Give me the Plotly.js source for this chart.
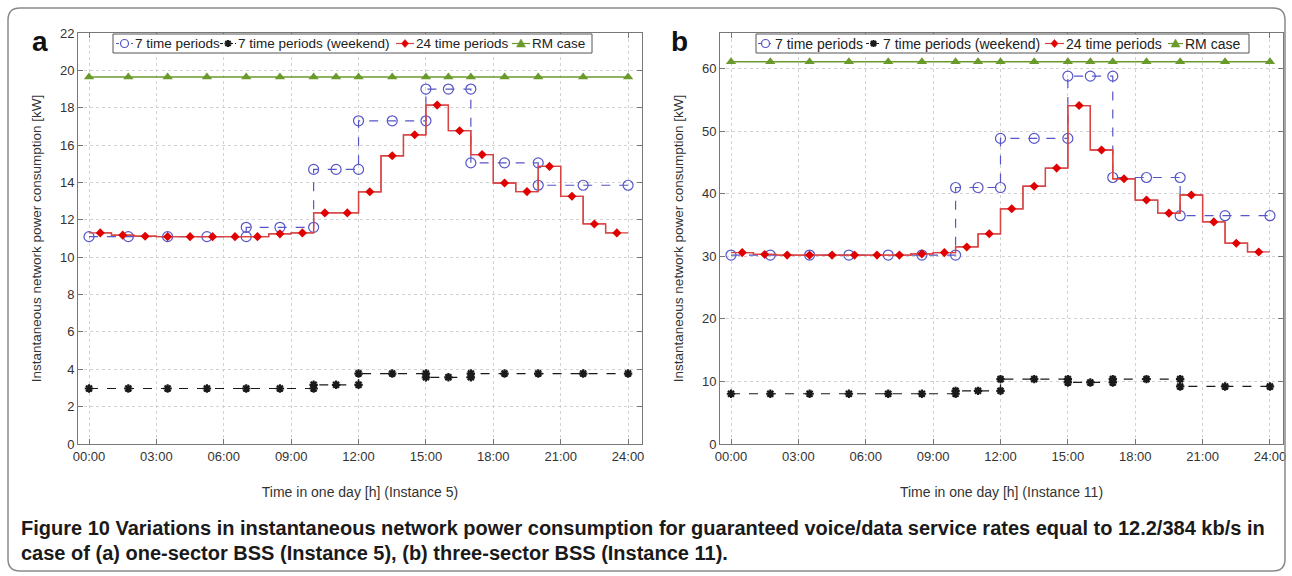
<!DOCTYPE html>
<html>
<head>
<meta charset="utf-8">
<script src="https://cdn.plot.ly/plotly-3.0.1.min.js"></script>
<style>
  html, body { margin: 0; padding: 0; background: #fff; }
  #chart { width: 1292px; height: 576px; }
</style>
</head>
<body>
<div id="chart"></div>
<script>
// ---------------- DATA ----------------
// Hours where markers of the period-based series are drawn
const markerHours = [0, 1.75, 3.5, 5.25, 7, 8.5, 10, 11, 12, 13.5, 15, 16, 17, 18.5, 20, 22, 24];
// Period boundaries for the "7 time periods" tariffs
const periodBounds = [0, 7, 10, 12, 15, 17, 20, 24];

// Panel a (Instance 5)
const sevenPeriodsA = [11.1, 11.6, 14.7, 17.3, 19.0, 15.05, 13.85];
const weekendA      = [2.97, 2.97, 3.17, 3.77, 3.57, 3.77, 3.77];
const hourly24A     = [11.3, 11.18, 11.12, 11.1, 11.1, 11.1, 11.1, 11.1, 11.25, 11.3, 12.37, 12.37,
                       13.5, 15.43, 16.55, 18.14, 16.77, 15.49, 13.97, 13.51, 14.86, 13.26, 11.78, 11.3];
const rmCaseA = 19.65;

// Panel b (Instance 11)
const sevenPeriodsB = [30.2, 30.2, 41.0, 48.85, 58.8, 42.6, 36.5];
const weekendB      = [8.03, 8.03, 8.5, 10.37, 9.84, 10.37, 9.2];
const hourly24B     = [30.6, 30.3, 30.2, 30.2, 30.2, 30.2, 30.2, 30.2, 30.4, 30.6, 31.5, 33.6,
                       37.6, 41.2, 44.1, 54.1, 47.0, 42.4, 39.0, 36.9, 39.8, 35.5, 32.1, 30.7];
const rmCaseB = 61.1;

// Tick labels
const xTickVals  = [0, 3, 6, 9, 12, 15, 18, 21, 24];
const xTickText  = ['00:00', '03:00', '06:00', '09:00', '12:00', '15:00', '18:00', '21:00', '24:00'];
const yTickValsA = [0, 2, 4, 6, 8, 10, 12, 14, 16, 18, 20, 22];
const yTickValsB = [0, 10, 20, 30, 40, 50, 60];

const seriesNames = ['7 time periods', '7 time periods (weekend)', '24 time periods', 'RM case'];

// ---------------- HELPERS ----------------
function periodSeries(vals) {
  const x = [], y = [];
  markerHours.forEach(h => {
    const k = periodBounds.indexOf(h);
    if (k > 0 && k < periodBounds.length - 1) {
      x.push(h); y.push(vals[k - 1]);
      if (vals[k] !== vals[k - 1]) { x.push(h); y.push(vals[k]); }
    } else {
      let p = 0;
      for (let i = 0; i < periodBounds.length - 1; i++) {
        if (h >= periodBounds[i] && h <= periodBounds[i + 1]) { p = i; break; }
      }
      x.push(h); y.push(vals[p]);
    }
  });
  return {x, y};
}

const C_BLUE = '#5656c8', C_BLACK = '#1a1a1a', C_RED = '#d84444', C_REDM = '#e00000', C_GREEN = '#6b9a2c';

function panelTraces(seven, weekend, hourly, rm, xa, ya) {
  const s7 = periodSeries(seven);
  const sw = periodSeries(weekend);
  const hx = hourly.map((v, i) => i + 0.5);
  const stepX = hourly.map((v, i) => i).concat([24]);
  const stepY = hourly.concat([hourly[hourly.length - 1]]);
  return [
    { x: s7.x, y: s7.y, name: seriesNames[0], mode: 'lines+markers', xaxis: xa, yaxis: ya,
      line: {color: C_BLUE, width: 1.2, dash: 'dash'},
      marker: {symbol: 'circle-open', size: 10, color: C_BLUE, line: {width: 1.2, color: C_BLUE}} },
    { x: sw.x, y: sw.y, name: seriesNames[1], mode: 'lines+markers', xaxis: xa, yaxis: ya,
      line: {color: C_BLACK, width: 1.2, dash: 'dash'},
      marker: {symbol: 'asterisk-open', size: 7, color: C_BLACK, line: {width: 2.2, color: C_BLACK}} },
    { x: stepX, y: stepY, mode: 'lines', xaxis: xa, yaxis: ya, hoverinfo: 'skip',
      line: {color: C_RED, width: 1.3, shape: 'hv'} },
    { x: hx, y: hourly, name: seriesNames[2], mode: 'lines+markers', xaxis: xa, yaxis: ya,
      line: {color: C_RED, width: 1.3, shape: 'hvh'},
      marker: {symbol: 'diamond', size: 7, color: C_REDM} },
    { x: markerHours, y: markerHours.map(() => rm), name: seriesNames[3], mode: 'lines+markers',
      xaxis: xa, yaxis: ya,
      line: {color: C_GREEN, width: 1.5},
      marker: {symbol: 'triangle-up', size: 9, color: C_GREEN} }
  ];
}

const traces = panelTraces(sevenPeriodsA, weekendA, hourly24A, rmCaseA, 'x', 'y')
  .concat(panelTraces(sevenPeriodsB, weekendB, hourly24B, rmCaseB, 'x2', 'y2'));

// ---------------- LAYOUT ----------------
const W = 1292, H = 576;
const px = v => v / W, py = v => 1 - v / H;
const FONT = 'Liberation Sans, Arial, sans-serif';

function xAxis(domain, range, anchor, title) {
  return {
    domain: domain, range: range, anchor: anchor,
    tickvals: xTickVals, ticktext: xTickText,
    ticks: 'inside', ticklen: 5, tickcolor: '#777', mirror: 'ticks',
    showline: true, linecolor: '#777', linewidth: 1,
    showgrid: true, gridcolor: '#d2d2d2', griddash: 'dot', gridwidth: 1,
    zeroline: false, tickfont: {family: FONT, size: 13, color: '#333'},
    title: {text: title, font: {family: FONT, size: 14, color: '#333'}, standoff: 24}
  };
}
function yAxis(range, tickvals, anchor) {
  return {
    domain: [py(444), py(33)], range: range, anchor: anchor,
    tickvals: tickvals,
    ticks: 'inside', ticklen: 5, tickcolor: '#777', mirror: 'ticks',
    showline: true, linecolor: '#777', linewidth: 1,
    showgrid: true, gridcolor: '#d2d2d2', griddash: 'dot', gridwidth: 1,
    zeroline: false, tickfont: {family: FONT, size: 13, color: '#333'},
    title: {text: 'Instantaneous network power consumption [kW]',
            font: {family: FONT, size: 13.5, color: '#333'}, standoff: 15}
  };
}

// Rounded outer frame
const L = px(8), R = px(1285), T = py(8), B = py(571), rx = 12 / W, ry = 12 / H;
const framePath = `M ${L + rx},${T} L ${R - rx},${T} Q ${R},${T} ${R},${T - ry} L ${R},${B + ry} Q ${R},${B} ${R - rx},${B} ` +
                  `L ${L + rx},${B} Q ${L},${B} ${L},${B + ry} L ${L},${T - ry} Q ${L},${T} ${L + rx},${T} Z`;

// ---------------- LEGEND (drawn as shapes + text) ----------------
const shapes = [
  {type: 'path', xref: 'paper', yref: 'paper', path: framePath, line: {color: '#8a8a8a', width: 1.5}}
];
const annotations = [];

const legendStyles = [
  {color: C_BLUE,  dash: '3px,2px', mk: 'circle'},
  {color: C_BLACK, dash: '3px,2px', mk: 'asterisk'},
  {color: C_RED,   dash: 'solid',   mk: 'diamond'},
  {color: C_GREEN, dash: 'solid',   mk: 'triangle'}
];

function addLegend(boxLeft, boxRight, boxTop, boxBottom, fontSize, symOff, textOff) {
  const cy = (boxTop + boxBottom) / 2;
  shapes.push({type: 'rect', xref: 'paper', yref: 'paper', x0: px(boxLeft), x1: px(boxRight),
               y0: py(boxBottom), y1: py(boxTop), fillcolor: '#ffffff', line: {color: '#555', width: 1}});
  legendStyles.forEach((st, i) => {
    const sx = boxLeft + symOff[i], ex = boxLeft + textOff[i] - 1, mx = (sx + ex) / 2;
    shapes.push({type: 'line', xref: 'paper', yref: 'paper', x0: px(sx), x1: px(ex), y0: py(cy), y1: py(cy),
                 line: {color: st.color, width: 1.2, dash: st.dash}});
    const base = {xref: 'paper', yref: 'paper', xsizemode: 'pixel', ysizemode: 'pixel',
                  xanchor: px(mx), yanchor: py(cy)};
    if (st.mk === 'circle') {
      shapes.push(Object.assign({type: 'circle', x0: -4, x1: 4, y0: -4, y1: 4, fillcolor: '#ffffff',
                                 line: {color: st.color, width: 1.2}}, base));
    } else if (st.mk === 'asterisk') {
      shapes.push(Object.assign({type: 'path', path: 'M -3.5,0 L 3.5,0 M 0,-3.5 L 0,3.5 M -2.6,-2.6 L 2.6,2.6 M -2.6,2.6 L 2.6,-2.6',
                                 line: {color: st.color, width: 2}}, base));
    } else if (st.mk === 'diamond') {
      shapes.push(Object.assign({type: 'path', path: 'M 0,4 L 3.5,0 L 0,-4 L -3.5,0 Z', fillcolor: C_REDM,
                                 line: {color: C_REDM, width: 0.5}}, base));
    } else {
      shapes.push(Object.assign({type: 'path', path: 'M -4.5,-3.5 L 4.5,-3.5 L 0,4.5 Z', fillcolor: st.color,
                                 line: {color: st.color, width: 0.5}}, base));
    }
    annotations.push({text: seriesNames[i], xref: 'paper', yref: 'paper', x: px(boxLeft + textOff[i]), y: py(cy),
                      xanchor: 'left', yanchor: 'middle', showarrow: false, borderpad: 0,
                      font: {family: FONT, size: fontSize, color: '#222'}});
  });
}
addLegend(113, 592, 34, 53, 13.5, [3, 107, 283, 399], [21, 124, 302, 418]);
addLegend(756, 1249, 34, 53, 14, [2, 110, 289, 412], [18, 126, 309, 428]);

annotations.push(
  {text: '<b>a</b>', xref: 'paper', yref: 'paper', x: px(40), y: py(42), xanchor: 'center', yanchor: 'middle',
   showarrow: false, font: {family: FONT, size: 28, color: '#111'}},
  {text: '<b>b</b>', xref: 'paper', yref: 'paper', x: px(679), y: py(42), xanchor: 'center', yanchor: 'middle',
   showarrow: false, font: {family: FONT, size: 28, color: '#111'}},
  {text: '<b>Figure 10 Variations in instantaneous network power consumption for guaranteed voice/data service rates equal to 12.2/384 kb/s in</b>',
   xref: 'paper', yref: 'paper', x: px(19), y: py(528), xanchor: 'left', yanchor: 'middle',
   showarrow: false, font: {family: FONT, size: 20, color: '#1a1a1a'}},
  {text: '<b>case of (a) one-sector BSS (Instance 5), (b) three-sector BSS (Instance 11).</b>',
   xref: 'paper', yref: 'paper', x: px(19), y: py(553), xanchor: 'left', yanchor: 'middle',
   showarrow: false, font: {family: FONT, size: 20, color: '#1a1a1a'}}
);

const layout = {
  width: W, height: H,
  margin: {l: 0, r: 0, t: 0, b: 0},
  paper_bgcolor: '#ffffff', plot_bgcolor: '#ffffff',
  font: {family: FONT},
  showlegend: false,
  xaxis:  xAxis([px(78), px(642)], [-0.49, 24.62], 'y', 'Time in one day [h] (Instance 5)'),
  yaxis:  yAxis([0, 22], yTickValsA, 'x'),
  xaxis2: xAxis([px(720), px(1283)], [-0.49, 24.58], 'y2', 'Time in one day [h] (Instance 11)'),
  yaxis2: yAxis([0, 65.7], yTickValsB, 'x2'),
  shapes: shapes,
  annotations: annotations
};

Plotly.newPlot('chart', traces, layout, {displayModeBar: false, staticPlot: true});
</script>
</body>
</html>
